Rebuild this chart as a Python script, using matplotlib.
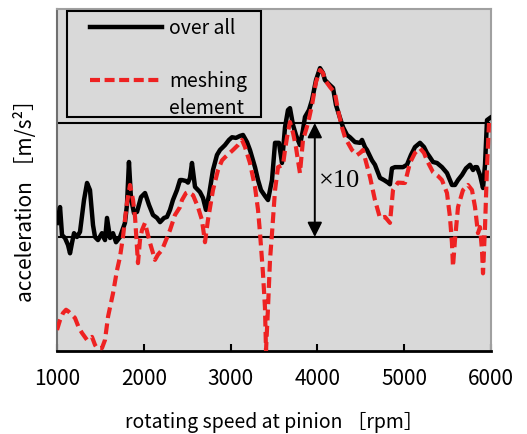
import matplotlib
matplotlib.use("Agg")
import matplotlib.pyplot as plt
from matplotlib.patches import Rectangle
from matplotlib.lines import Line2D

plt.rcParams['font.family'] = ['Noto Sans CJK JP', 'DejaVu Sans']

# rotating speed [rpm] and acceleration [m/s^2]
rpm_all = [1000, 1035, 1058, 1092, 1127, 1150, 1173, 1196, 1230, 1265, 1311, 1346,
           1380, 1415, 1438, 1472, 1518, 1553, 1576, 1611, 1645, 1680, 1726, 1783,
           1806, 1829, 1852, 1887, 1922, 1968, 2014, 2060, 2106, 2152, 2187, 2233,
           2267, 2302, 2336, 2382, 2417, 2440, 2486, 2509, 2532, 2555, 2590, 2647,
           2682, 2716, 2751, 2797, 2843, 2878, 2935, 2981, 3016, 3062, 3108, 3143,
           3189, 3223, 3281, 3316, 3350, 3396, 3431, 3477, 3512, 3557, 3592, 3627,
           3661, 3684, 3719, 3753, 3799, 3834, 3857, 3903, 3938, 3984, 4030, 4064,
           4087, 4145, 4180, 4214, 4260, 4295, 4341, 4375, 4433, 4491, 4514, 4548,
           4571, 4629, 4663, 4721, 4767, 4813, 4836, 4859, 4894, 4928, 4986, 5032,
           5078, 5124, 5182, 5228, 5262, 5297, 5332, 5378, 5435, 5493, 5550, 5585,
           5620, 5666, 5712, 5758, 5793, 5816, 5839, 5873, 5908, 5931, 5942, 5954,
           5990]
acc_all = [0.133, 0.183, 0.104, 0.098, 0.085, 0.072, 0.089, 0.108, 0.10, 0.111, 0.211, 0.298,
           0.258, 0.127, 0.10, 0.094, 0.108, 0.094, 0.147, 0.098, 0.108, 0.090, 0.10, 0.133,
           0.191, 0.455, 0.22, 0.162, 0.166, 0.224, 0.243, 0.191, 0.156, 0.147, 0.135, 0.147,
           0.15, 0.173, 0.211, 0.258, 0.316, 0.316, 0.31, 0.30, 0.33, 0.446, 0.275, 0.248,
           0.22, 0.173, 0.233, 0.387, 0.524, 0.58, 0.64, 0.71, 0.75, 0.74, 0.77, 0.785,
           0.68, 0.58, 0.41, 0.316, 0.258, 0.229, 0.211, 0.316, 0.67, 0.67, 0.446, 0.92,
           1.30, 1.35, 0.96, 0.785, 0.64, 0.87, 1.13, 1.30, 1.59, 2.38, 3.03, 2.75,
           2.38, 2.15, 2.03, 1.44, 1.11, 0.92, 0.785, 0.75, 0.68, 0.67, 0.71, 0.615,
           0.58, 0.47, 0.43, 0.33, 0.316, 0.30, 0.29, 0.40, 0.41, 0.41, 0.41, 0.43,
           0.524, 0.615, 0.67, 0.615, 0.546, 0.50, 0.455, 0.446, 0.41, 0.364, 0.286, 0.286,
           0.316, 0.35, 0.40, 0.43, 0.387, 0.41, 0.41, 0.35, 0.269, 0.43, 0.67, 1.06,
           1.11]

rpm_mesh = [1000, 1035, 1069, 1104, 1127, 1173, 1207, 1253, 1288, 1346, 1380, 1403,
            1438, 1461, 1518, 1553, 1588, 1645, 1691, 1726, 1760, 1806, 1841, 1876,
            1899, 1933, 1956, 1979, 2014, 2048, 2071, 2129, 2163, 2210, 2256, 2302,
            2359, 2417, 2440, 2486, 2509, 2567, 2624, 2670, 2705, 2739, 2797, 2855,
            2901, 2935, 3028, 3085, 3131, 3166, 3223, 3281, 3316, 3339, 3373, 3396,
            3408, 3431, 3454, 3477, 3512, 3546, 3604, 3627, 3650, 3684, 3719, 3753,
            3776, 3799, 3834, 3869, 3892, 3938, 3984, 4030, 4064, 4087, 4145, 4202,
            4237, 4283, 4318, 4352, 4398, 4456, 4491, 4525, 4560, 4606, 4663, 4721,
            4779, 4836, 4871, 4928, 4986, 5009, 5066, 5124, 5182, 5228, 5262, 5332,
            5389, 5435, 5493, 5527, 5550, 5562, 5585, 5620, 5677, 5735, 5781, 5816,
            5850, 5873, 5896, 5908, 5931, 5954, 5977]
acc_mesh = [0.0153, 0.0187, 0.0215, 0.023, 0.0224, 0.0207, 0.0195, 0.0159, 0.0144, 0.0125, 0.013, 0.0133,
            0.0113, 0.0106, 0.0106, 0.0125, 0.020, 0.032, 0.051, 0.067, 0.10, 0.199, 0.286, 0.211,
            0.15, 0.059, 0.094, 0.115, 0.133, 0.104, 0.089, 0.063, 0.070, 0.077, 0.094, 0.115,
            0.156, 0.183, 0.211, 0.243, 0.248, 0.233, 0.183, 0.141, 0.090, 0.141, 0.258, 0.387,
            0.47, 0.50, 0.58, 0.64, 0.71, 0.615, 0.446, 0.275, 0.173, 0.108, 0.048, 0.024,
            0.0101, 0.024, 0.063, 0.108, 0.258, 0.41, 0.43, 0.58, 0.75, 1.02, 0.82, 0.615,
            0.47, 0.364, 0.71, 0.87, 1.0, 1.44, 2.29, 2.92, 2.75, 2.38, 2.07, 1.83,
            1.30, 0.92, 0.75, 0.67, 0.58, 0.524, 0.546, 0.58, 0.455, 0.336, 0.211, 0.147,
            0.15, 0.133, 0.258, 0.30, 0.298, 0.298, 0.446, 0.546, 0.60, 0.546, 0.47, 0.37,
            0.343, 0.316, 0.243, 0.15, 0.089, 0.055, 0.094, 0.183, 0.258, 0.286, 0.258, 0.183,
            0.108, 0.122, 0.077, 0.048, 0.122, 0.41, 1.0]

x_ticks = [1000, 2000, 3000, 4000, 5000, 6000]
grid_levels = [0.1, 1.0]
arrow_rpm = 3970

fig = plt.figure(figsize=(5.27, 4.34), dpi=100)
ax = fig.add_axes([57 / 527, 83 / 434, 434 / 527, 342 / 434])
ax.set_facecolor('#d9d9d9')

for g in grid_levels:
    ax.axhline(g, color='black', lw=1.5, zorder=1)

ax.plot(rpm_all, acc_all, color='black', lw=3.2, solid_joinstyle='round', zorder=3)
ax.plot(rpm_mesh, acc_mesh, color='#ee2222', lw=3, dashes=(2.6, 1.3), zorder=4)

ax.set_yscale('log')
ax.set_xlim(1000, 6000)
ax.set_ylim(0.01, 10)
ax.set_xticks(x_ticks)
ax.set_yticks([])
ax.minorticks_off()
ax.tick_params(axis='x', direction='in', length=5, width=1.5, pad=12, labelsize=15)
ax.tick_params(axis='y', left=False, labelleft=False, which='both')

for side in ['top', 'right']:
    ax.spines[side].set_color('#a0a0a0')
    ax.spines[side].set_linewidth(1.5)
ax.spines['left'].set_color('#707070')
ax.spines['left'].set_linewidth(1.5)
ax.spines['bottom'].set_color('black')
ax.spines['bottom'].set_linewidth(2)

# x10 double arrow between the two grid lines
ax.annotate('', xy=(arrow_rpm, grid_levels[1]), xytext=(arrow_rpm, grid_levels[0]),
            arrowprops=dict(arrowstyle='<|-|>', color='black', lw=1.4,
                            mutation_scale=22, shrinkA=0, shrinkB=0), zorder=5)
ax.text(arrow_rpm + 45, 0.31, '×10', fontsize=19, va='center', ha='left',
        family=['Liberation Serif', 'DejaVu Serif'], zorder=5)

# legend box drawn by hand
tr = ax.transAxes
ax.add_patch(Rectangle((10 / 434, 234 / 342), 194 / 434, 106 / 342, transform=tr,
                       facecolor='#d9d9d9', edgecolor='black', lw=1.5, zorder=6))
ax.add_line(Line2D([33 / 434, 105 / 434], [324 / 342, 324 / 342], transform=tr,
                   color='black', lw=3.2, zorder=7))
ax.add_line(Line2D([33 / 434, 105 / 434], [271 / 342, 271 / 342], transform=tr,
                   color='#ee2222', lw=3, dashes=(2.4, 1.1), zorder=7))
ax.text(112 / 434, 322 / 342, 'over all', transform=tr, fontsize=14, va='center', zorder=7)
ax.text(112 / 434, 269 / 342, 'meshing', transform=tr, fontsize=14, va='center', zorder=7)
ax.text(112 / 434, 243 / 342, 'element', transform=tr, fontsize=14, va='center', zorder=7)

fig.text(274 / 527, 1 - 422 / 434, 'rotating speed at pinion ［rpm］', fontsize=14,
         ha='center', va='center')
fig.text(26 / 527, 1 - 196 / 434, 'acceleration ［m/s²］', fontsize=15,
         ha='center', va='center', rotation=90)

fig.savefig('out.png', dpi=100)
